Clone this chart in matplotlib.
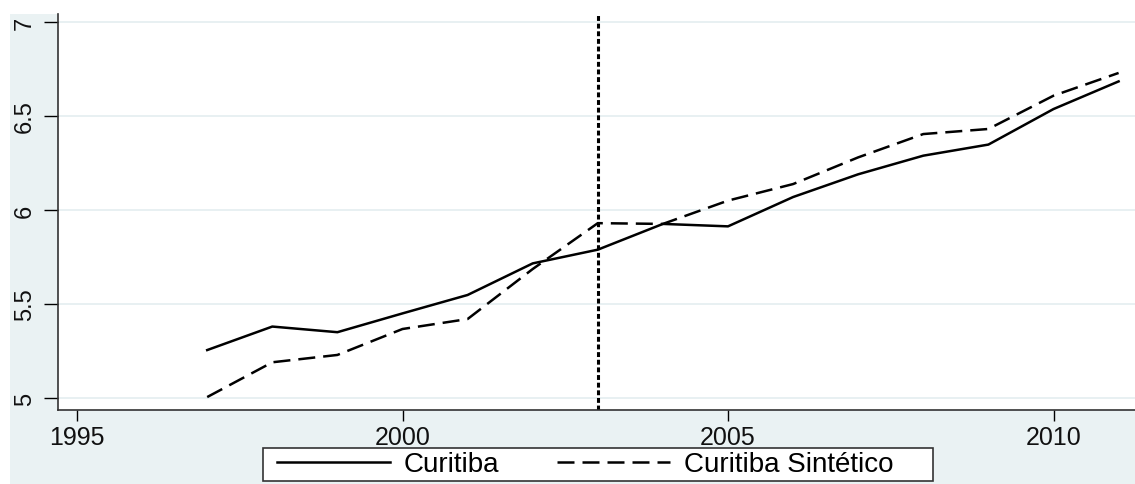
import matplotlib
matplotlib.use("Agg")
import matplotlib.pyplot as plt
from matplotlib.patches import Rectangle

# ====== data ======
years = [1997, 1998, 1999, 2000, 2001, 2002, 2003, 2004, 2005, 2006, 2007, 2008, 2009, 2010, 2011]
curitiba = [5.255, 5.38, 5.35, 5.45, 5.548, 5.716, 5.789, 5.926, 5.913, 6.069, 6.19, 6.289, 6.348, 6.537, 6.684]
curitiba_sint = [5.005, 5.19, 5.229, 5.367, 5.42, 5.686, 5.93, 5.926, 6.05, 6.138, 6.28, 6.404, 6.431, 6.608, 6.729]
treat_year = 2003
x_ticks = [1995, 2000, 2005, 2010]
y_ticks = [5, 5.5, 6, 6.5, 7]
y_labels = ["5", "5.5", "6", "6.5", "7"]

plt.rcParams['font.family'] = ['Liberation Sans', 'DejaVu Sans']

W, H = 1135, 485
bg = "#eaf2f3"
fig = plt.figure(figsize=(W / 100, H / 100), dpi=100, facecolor="white")

# fundo estilo stata (imagem recortada em cima/esquerda)
fig.patches.append(Rectangle((10 / W, 0), 1, (H - 15) / H, transform=fig.transFigure,
                             facecolor=bg, edgecolor="none", zorder=-5))

ax = fig.add_axes([58 / W, (H - 411) / H, (W - 58) / W + 0.01, (411 - 15) / H])
ax.set_facecolor("white")
ax.set_zorder(2)

ax.plot(years, curitiba, color="black", lw=1.8, label="Curitiba")
ax.plot(years, curitiba_sint, color="black", lw=1.8, linestyle=(0, (6.8, 3.2)), label="Curitiba Sintético")
ax.axvline(treat_year, color="black", lw=2.2, linestyle=(0, (1.6, 0.9)))

px_per_year = 65.1
x0 = 1995 - 19 / px_per_year
ax.set_xlim(x0, x0 + ax.get_position().width * W / px_per_year)
ax.set_ylim(5 - 12 / 188, 7 + 8 / 188)

ax.set_xticks(x_ticks)
ax.set_xticklabels([str(t) for t in x_ticks], fontsize=18, color="#111111")
ax.set_yticks(y_ticks)
ax.set_yticklabels(y_labels, fontsize=17, rotation=90, va="center", color="#111111")
ax.tick_params(axis="x", length=8, width=1, pad=3)
ax.tick_params(axis="y", length=10, width=1, pad=6)
ax.grid(axis="y", color="#e4eef0", lw=1.2)
ax.set_axisbelow(True)

for s in ["top", "right"]:
    ax.spines[s].set_visible(False)
for s in ["left", "bottom"]:
    ax.spines[s].set_color("#333333")
    ax.spines[s].set_linewidth(1.2)

# caixa da legenda desenhada à parte
fig.patches.append(Rectangle((263 / W, 1 - 482 / H), 670 / W, 33 / H, transform=fig.transFigure,
                             facecolor="white", edgecolor="#333333", lw=1.2, zorder=4))
leg = fig.legend(loc="center left", bbox_to_anchor=(277 / W, 1 - 465.5 / H), ncol=2, fontsize=20,
                 frameon=False, handlelength=4.05, handletextpad=0.5, columnspacing=2.1,
                 borderpad=0, borderaxespad=0)
leg.set_zorder(5)

plt.savefig("out.png", dpi=100, facecolor=fig.get_facecolor())
